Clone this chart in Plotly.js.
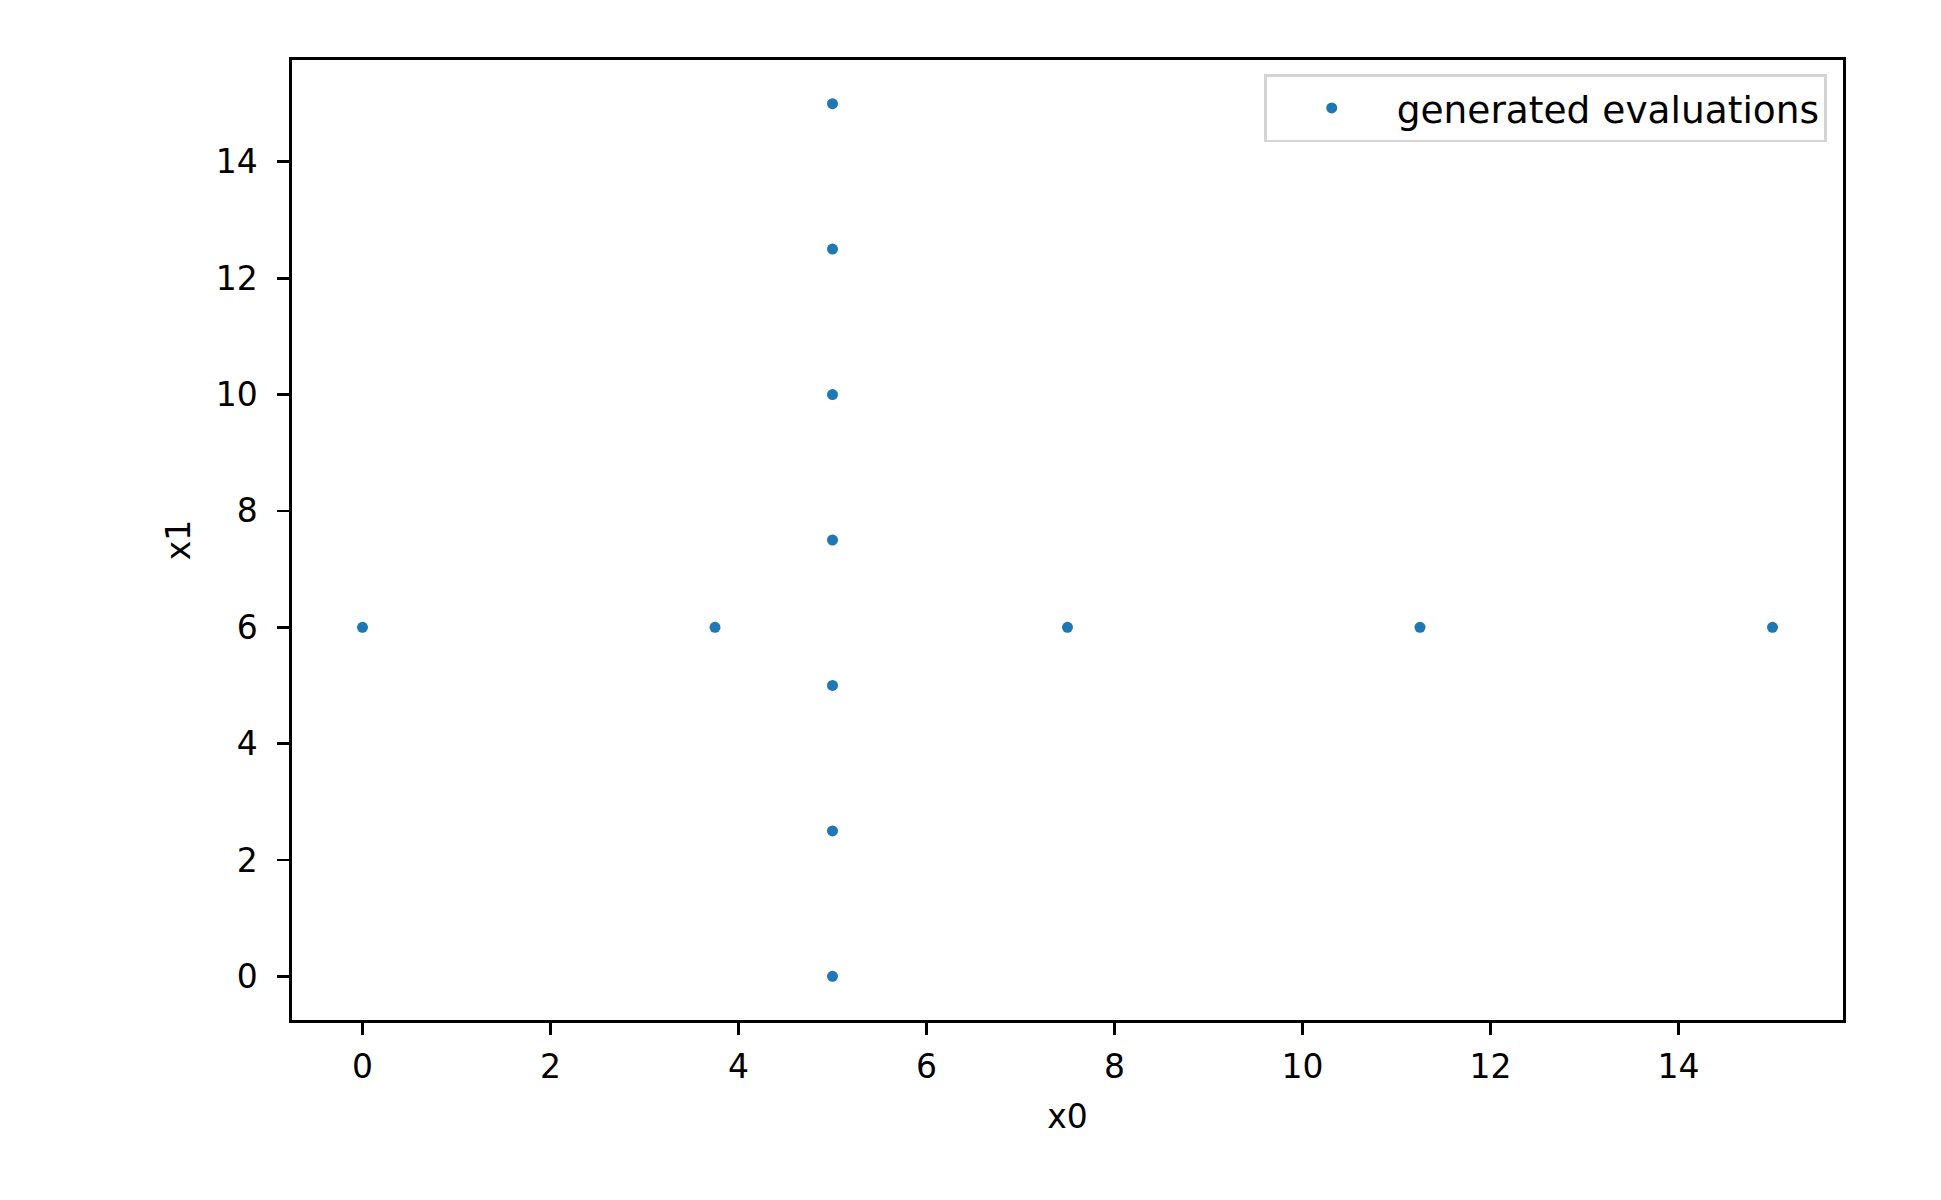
<!DOCTYPE html>
<html>
<head>
<meta charset="utf-8">
<script src="https://cdn.plot.ly/plotly-3.0.1.min.js"></script>
<style>html,body{margin:0;padding:0;background:#fff}#chart{width:1941px;height:1200px}</style>
</head>
<body>
<div id="chart"></div>
<script>
const seriesName = "generated evaluations";
const x0Values = [5, 5, 5, 5, 5, 5, 5, 0, 3.75, 7.5, 11.25, 15];
const x1Values = [0, 2.5, 5, 7.5, 10, 12.5, 15, 6, 6, 6, 6, 6];
const tickVals = [0, 2, 4, 6, 8, 10, 12, 14];
const xTitle = "x0";
const yTitle = "x1";

const font = {family: "DejaVu Sans", size: 33, color: "#000"};
const legendFont = {family: "DejaVu Sans", size: 37.5, color: "#000"};
const axisCommon = {
  showline: true, mirror: true, linecolor: "#000", linewidth: 2.7,
  ticks: "outside", ticklen: 12, tickwidth: 2.7, tickcolor: "#000",
  showgrid: false, zeroline: false,
  tickvals: tickVals, ticktext: tickVals.map(String),
  tickfont: font, range: [-0.75, 15.75]
};

Plotly.newPlot("chart", [{
  type: "scatter", mode: "markers", name: seriesName,
  x: x0Values, y: x1Values,
  marker: {color: "#1f77b4", size: 11},
  showlegend: true
}], {
  width: 1941, height: 1200,
  margin: {l: 292, r: 98, t: 60, b: 180, pad: 0},
  paper_bgcolor: "#fff", plot_bgcolor: "#fff",
  font: font,
  showlegend: true,
  xaxis: Object.assign({}, axisCommon, {ticklabelstandoff: 4, title: {text: xTitle, font: font, standoff: 20}}),
  yaxis: Object.assign({}, axisCommon, {ticklabelstandoff: 13, title: {text: yTitle, font: font, standoff: 16}}),
  legend: {
    x: 0.9897, y: 0.985, xanchor: "right", yanchor: "top",
    bordercolor: "#d4d4d4", borderwidth: 2.7, bgcolor: "rgba(255,255,255,0.8)",
    font: legendFont, itemwidth: 120
  }
}, {displayModeBar: false, staticPlot: true});
</script>
</body>
</html>
